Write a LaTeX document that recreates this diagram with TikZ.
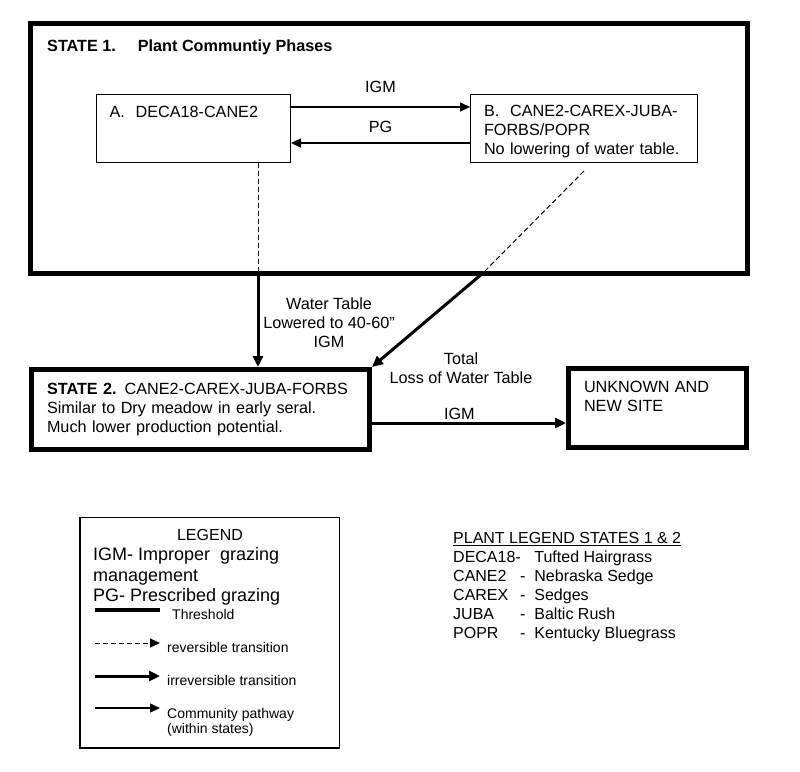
\documentclass[tikz,border=0pt]{standalone}
\usepackage{fontspec}
\setmainfont{Liberation Sans}
\usetikzlibrary{arrows.meta}

\begin{document}
\begin{tikzpicture}[
  x=1pt, y=-1pt,
  every node/.style = {
    font=\fontsize{16.2}{19}\selectfont,
    inner sep=0pt
  },
  state/.style = {
    shape=rectangle,
    draw,
    line width=5pt,
    align=left
  },
  phase/.style = {
    shape=rectangle,
    draw,
    line width=1pt,
    align=left
  },
  small/.style = {font=\fontsize{14}{15}\selectfont},
  pathway/.style = {line width=1.5pt, -{Triangle[length=10pt, width=9pt]}},
  rev/.style = {line width=1pt, dash pattern=on 5pt off 3pt},
  irrev/.style = {line width=3pt, -{Triangle[length=11pt, width=10pt]}}
]
\useasboundingbox (0,0) rectangle (800,771);

% state 1 and its phases
\node[state, minimum width=717pt, minimum height=249.5pt] (s1) at (389,148.25) {};
\node[anchor=base west, font=\fontsize{16.2}{19}\selectfont\bfseries] (s1title) at (47,51)
  {STATE 1.\hspace{22pt}Plant Communtiy Phases};

\node[phase, text width=168pt, inner xsep=13pt, inner ysep=11pt,
  text height=11.5pt, text depth=34.5pt] (a) at (193.5,128.5)
  {A.\ \ DECA18-CANE2};
\node[phase, text width=200pt, inner xsep=13.5pt, inner ysep=10pt,
  text height=11.5pt, text depth=36.5pt] (b) at (584,128.5)
  {B.\ \ CANE2-CAREX-JUBA-\\FORBS/POPR\\No lowering of water table.};

\draw[pathway] ([yshift=21.5pt]a.east) -- ([yshift=21.5pt]b.west) node[midway, above=14pt] {IGM};
\draw[pathway] ([yshift=-14.5pt]b.west) -- ([yshift=-14.5pt]a.east) node[midway, above=10pt] {PG};

% state 2 and the new site
\node[state, text width=307pt, inner xsep=15.5pt, inner ysep=13pt,
  text height=11.5pt, text depth=42.5pt] (s2) at (200.5,409.5)
  {\textbf{STATE 2.} CANE2-CAREX-JUBA-FORBS\\Similar to Dry meadow in early seral.\\Much lower production potential.};
\node[state, text width=147pt, inner xsep=15.5pt, inner ysep=12pt,
  text height=11.5pt, text depth=43.5pt] (unk) at (657.5,408)
  {UNKNOWN AND\\NEW SITE};

% transitions
\coordinate (xa) at (258,273);
\coordinate (bfoot) at (584,171);
\coordinate (xb) at (483,273);
\draw[rev] (a.south -| xa) -- (xa);
\draw[irrev] (xa) -- (xa |- s2.north);
\draw[rev] (bfoot) -- (xb);
\draw[irrev] (xb) -- (s2.north east);

% multi-line labels: base is the last line
\node[align=center, anchor=base] (wt) at (329,347) {Water Table\\Lowered to 40-60”\\IGM};
\node[align=center, anchor=base] (loss) at (461,383) {Total\\Loss of Water Table};

\draw[irrev] ([yshift=-13.5pt]s2.east) -- ([yshift=-13.5pt]s2.east -| unk.west)
  node[pos=0.45, above=2pt] {IGM};

% legend
\node[draw, line width=1.5pt, minimum width=259.5pt, minimum height=230.5pt] (legend) at (209.5,632.5) {};
\node[anchor=base, font=\fontsize{16}{19}\selectfont] (legtitle) at (210,540) {LEGEND};
\node[anchor=base west, align=left, font=\fontsize{18}{20.5}\selectfont] (abbr) at (93,601.5)
  {IGM- Improper\ \ grazing\\management\\PG- Prescribed grazing};

\coordinate (th1) at (95,610);
\coordinate (th2) at (160,610);
\draw[line width=4pt] (th1) -- (th2);
\node[anchor=base west, small] (thtxt) at (172,619) {Threshold};

\coordinate (rv1) at (95,643);
\coordinate (rv2) at (160,643);
\draw[rev, -{Triangle[length=10pt, width=9pt]}] (rv1) -- (rv2);
\node[anchor=base west, small] (rvtxt) at (167,652.5) {reversible transition};

\coordinate (ir1) at (95,676);
\coordinate (ir2) at (160,676);
\draw[irrev] (ir1) -- (ir2);
\node[anchor=base west, small] (irtxt) at (167,685.5) {irreversible transition};

\coordinate (pw1) at (95,708);
\coordinate (pw2) at (160,708);
\draw[pathway] (pw1) -- (pw2);
\node[anchor=base west, align=left, small] (pwtxt) at (167,733) {Community pathway\\(within states)};

% plant legend
\node[anchor=base west, align=left, font=\fontsize{16}{18.9}\selectfont] (plants) at (453,638)
  {\underline{PLANT LEGEND STATES 1 \& 2}\\
   \makebox[72.3pt][l]{DECA18-}\ \ Tufted Hairgrass\\
   \makebox[67pt][l]{CANE2}-\ \ Nebraska Sedge\\
   \makebox[67pt][l]{CAREX}-\ \ Sedges\\
   \makebox[67pt][l]{JUBA}-\ \ Baltic Rush\\
   \makebox[67pt][l]{POPR}-\ \ Kentucky Bluegrass};

\end{tikzpicture}
\end{document}
